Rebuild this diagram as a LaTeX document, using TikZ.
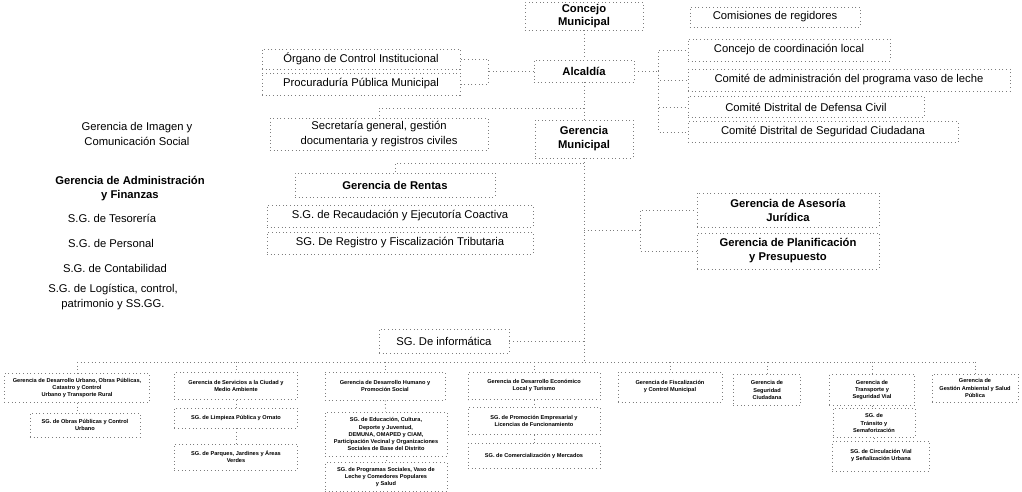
\documentclass[tikz,border=0pt]{standalone}
\usepackage{fontspec}
\setmainfont{Liberation Sans}
\definecolor{linea}{RGB}{125, 125, 125}
\tikzset{
  caja/.style={draw=linea, dotted, line width=0.6pt, align=center, inner sep=1pt, font=\fontsize{8}{10}\selectfont},
  cajab/.style={caja, font=\fontsize{8}{10}\selectfont\bfseries},
  libre/.style={align=center, inner sep=1pt, font=\fontsize{8}{10}\selectfont},
  libreb/.style={libre, font=\fontsize{8}{10}\selectfont\bfseries},
  mini/.style={caja, font=\fontsize{4}{5}\selectfont\bfseries},
  enlace/.style={draw=linea, dotted, line width=0.6pt}
}

\begin{document}
\begin{tikzpicture}[x=0.025cm, y=-0.025cm]
  \useasboundingbox (0,0) rectangle (1022,492);

  % Alta direccion
  \node[cajab, font=\fontsize{8}{9}\selectfont\bfseries, minimum width=2.95cm, minimum height=0.7cm] (concejo) at (584,16) {Concejo\\Municipal};
  \node[caja, minimum width=4.25cm, minimum height=0.5cm] (comisiones) at (775,17) {Comisiones de regidores};
  \node[cajab, minimum width=2.5cm, minimum height=0.55cm] (alcaldia) at (584,71) {Alcaldía};
  \node[cajab, minimum width=2.45cm, minimum height=0.95cm] (germ) at (584,139) {Gerencia\\Municipal};

  % Organos de control y defensa
  \node[caja, minimum width=4.95cm, minimum height=0.5cm] (organo) at (361,59) {Órgano de Control Institucional};
  \node[caja, minimum width=4.95cm, minimum height=0.55cm] (procuraduria) at (361,84) {Procuraduría Pública Municipal};

  % Organos de coordinacion
  \node[caja, minimum width=5.05cm, minimum height=0.55cm] (coordlocal) at (789,50) {Concejo de coordinación local};
  \node[caja, minimum width=8.05cm, minimum height=0.55cm] (vaso) at (849,80) {Comité de administración del programa vaso de leche};
  \node[caja, minimum width=5.9cm, minimum height=0.525cm] (defensa) at (806,107) {Comité Distrital de Defensa Civil};
  \node[caja, minimum width=6.75cm, minimum height=0.525cm] (seguridad) at (823,132) {Comité Distrital de Seguridad Ciudadana};

  % Apoyo y asesoria
  \node[caja, minimum width=5.45cm, minimum height=0.8cm] (secretaria) at (379,134) {Secretaría general, gestión\\documentaria y registros civiles};
  \node[cajab, minimum width=5cm, minimum height=0.6cm] (rentas) at (395,185) {Gerencia de Rentas};
  \node[caja, minimum width=6.65cm, minimum height=0.55cm] (recaudacion) at (400,216) {S.G. de Recaudación y Ejecutoría Coactiva};
  \node[caja, minimum width=6.65cm, minimum height=0.55cm] (registro) at (400,243) {SG. De Registro y Fiscalización Tributaria};
  \node[cajab, minimum width=4.55cm, minimum height=0.85cm] (asesoria) at (788,210) {Gerencia de Asesoría\\Jurídica};
  \node[cajab, minimum width=4.55cm, minimum height=0.9cm] (planif) at (788,251) {Gerencia de Planificación\\y Presupuesto};
  \node[caja, minimum width=3.25cm, minimum height=0.6cm] (informatica) at (444,341) {SG. De informática};

  % Columna izquierda
  \node[libre] (imagen) at (137,134) {Gerencia de Imagen y\\Comunicación Social};
  \node[libreb] (admfin) at (130,189) {Gerencia de Administración\\y Finanzas};
  \node[libre] (tesoreria) at (112,218) {S.G. de Tesorería};
  \node[libre] (personal) at (111,243) {S.G. de Personal};
  \node[libre] (contabilidad) at (115,268) {S.G. de Contabilidad};
  \node[libre] (logistica) at (113,297) {S.G. de Logística, control,\\patrimonio y SS.GG.};

  % Organos de linea
  \node[mini, minimum width=3.625cm, minimum height=0.725cm] (b1) at (77,388) {Gerencia de Desarrollo Urbano, Obras Públicas,\\Catastro y Control\\Urbano y Transporte Rural};
  \node[mini, minimum width=2.75cm, minimum height=0.6cm] (b1a) at (85,425) {SG. de Obras Públicas y Control\\Urbano};
  \node[mini, minimum width=3.075cm, minimum height=0.675cm] (b2) at (236,386) {Gerencia de Servicios a la Ciudad y\\Medio Ambiente};
  \node[mini, minimum width=3.075cm, minimum height=0.5cm] (b2a) at (236,418) {SG. de Limpieza Pública y Ornato};
  \node[mini, minimum width=3.075cm, minimum height=0.65cm] (b2b) at (236,457) {SG. de Parques, Jardines y Áreas\\Verdes};
  \node[mini, minimum width=3cm, minimum height=0.7cm] (b3) at (385,386) {Gerencia de Desarrollo Humano y\\Promoción Social};
  \node[mini, minimum width=3.05cm, minimum height=1.1cm] (b3a) at (386,434) {SG. de Educación, Cultura,\\Deporte y Juventud,\\DEMUNA, OMAPED y CIAM,\\Participación Vecinal y Organizaciones\\Sociales de Base del Distrito};
  \node[mini, minimum width=3.05cm, minimum height=0.725cm] (b3b) at (386,477) {SG. de Programas Sociales, Vaso de\\Leche y Comedores Populares\\y Salud};
  \node[mini, minimum width=3.3cm, minimum height=0.675cm] (b4) at (534,386) {Gerencia de Desarrollo Económico\\Local y Turismo};
  \node[mini, minimum width=3.3cm, minimum height=0.675cm] (b4a) at (534,421) {SG. de Promoción Empresarial y\\Licencias de Funcionamiento};
  \node[mini, minimum width=3.3cm, minimum height=0.625cm] (b4b) at (534,456) {SG. de Comercialización y Mercados};
  \node[mini, minimum width=2.6cm, minimum height=0.75cm] (b5) at (670,387) {Gerencia de Fiscalización\\y Control Municipal};
  \node[mini, minimum width=1.675cm, minimum height=0.775cm] (b6) at (767,390) {Gerencia de\\Seguridad\\Ciudadana};
  \node[mini, minimum width=2.125cm, minimum height=0.775cm] (b7) at (872,390) {Gerencia de\\Transporte y\\Seguridad Vial};
  \node[mini, minimum width=2.05cm, minimum height=0.725cm] (b7a) at (874,423) {SG. de\\Tránsito y\\Semaforización};
  \node[mini, minimum width=2.425cm, minimum height=0.75cm] (b7b) at (881,456) {SG. de Circulación Vial\\y Señalización Urbana};
  \node[mini, minimum width=2.15cm, minimum height=0.7cm] (b8) at (975,388) {Gerencia de\\Gestión Ambiental y Salud\\Pública};

  % Conectores
  \draw[enlace] (concejo) -- (alcaldia);
  \draw[enlace] (alcaldia) -- (germ);
  \draw[enlace] (alcaldia.west) -- ++(-45,0) coordinate (izq) |- (organo.east);
  \draw[enlace] (izq) |- (procuraduria.east);
  \draw[enlace] (alcaldia.east) -- ++(24,0) coordinate (der);
  \foreach \n in {coordlocal, vaso, defensa, seguridad}
    \draw[enlace] (der) |- (\n.west);
  \coordinate (n1) at (584,108);
  \draw[enlace] (n1) -| (secretaria.north);
  \coordinate (bus) at (584,362);
  \draw[enlace] (germ.south) -- (bus);
  \coordinate (n2) at (584,163);
  \draw[enlace] (n2) -| (rentas.north);
  \coordinate (n3) at (584,230);
  \draw[enlace] (n3) -- ++(56,0) coordinate (jur);
  \draw[enlace] (jur) |- (asesoria.west);
  \draw[enlace] (jur) |- (planif.west);
  \draw[enlace] (informatica.east) -- (informatica.east -| bus);

  % Barra inferior
  \draw[enlace] (b1.north |- bus) -- (b8.north |- bus);
  \foreach \n in {b1, b2, b3, b4, b5, b6, b7, b8}
    \draw[enlace] (\n.north |- bus) -- (\n.north);
  \draw[enlace] (b1.south) -- (b1.south |- b1a.north);
  \draw[enlace] (b2) -- (b2a);
  \draw[enlace] (b2a) -- (b2b);
  \draw[enlace] (b3) -- (b3a);
  \draw[enlace] (b3a) -- (b3b);
  \draw[enlace] (b4) -- (b4a);
  \draw[enlace] (b4a) -- (b4b);
  \draw[enlace] (b7.south) -- (b7.south |- b7a.north);
  \draw[enlace] (b7a.south) -- (b7a.south |- b7b.north);
\end{tikzpicture}
\end{document}
